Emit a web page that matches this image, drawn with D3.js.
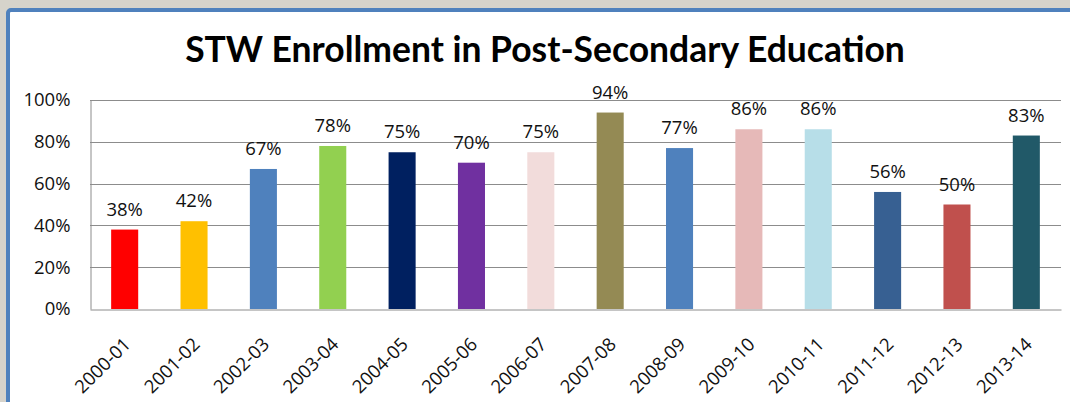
<!DOCTYPE html>
<html>
<head>
<meta charset="utf-8">
<script src="https://cdn.jsdelivr.net/npm/d3@7"></script>
<style>
  html, body { margin: 0; padding: 0; background: #d6d3cb; }
  #chart { width: 1070px; height: 402px; }
</style>
</head>
<body>
<div id="chart"></div>
<script>
const years = ['2000-01', '2001-02', '2002-03', '2003-04', '2004-05', '2005-06', '2006-07',
  '2007-08', '2008-09', '2009-10', '2010-11', '2011-12', '2012-13', '2013-14'];
const enrollment = [38, 42, 67, 78, 75, 70, 75, 94, 77, 86, 86, 56, 50, 83];
const barColors = ['#ff0000', '#ffc000', '#4f81bd', '#92d050', '#002060', '#7030a0', '#f2dcdb',
  '#948a54', '#4f81bd', '#e6b9b8', '#b7dee8', '#376092', '#c0504d', '#215968'];
const yTicks = [0, 20, 40, 60, 80, 100];

const width = 1070;
const height = 402;
const margin = { top: 100, right: 9, bottom: 93, left: 90 };
const font = '"Open Sans", "Liberation Sans", sans-serif';
const labelSize = 18.5;

const svg = d3.select('#chart').append('svg')
  .attr('width', width)
  .attr('height', height)
  .style('display', 'block');

// window frame: grey surround, blue border, white chart area
svg.append('rect').attr('width', width).attr('height', height).attr('fill', '#d6d3cb');
svg.append('rect')
  .attr('x', 8).attr('y', 10)
  .attr('width', width + 20).attr('height', height + 20)
  .attr('rx', 3)
  .attr('fill', '#fff')
  .attr('stroke', '#4f81bd')
  .attr('stroke-width', 4);

const title = svg.append('text')
  .attr('x', 545)
  .attr('y', 62)
  .attr('text-anchor', 'middle')
  .attr('font-family', '"Lato", "Open Sans", sans-serif')
  .attr('font-weight', 'bold')
  .attr('font-size', 32)
  .attr('fill', '#000')
  .text('STW Enrollment in Post-Secondary Education');
// fit to the width of the original title
const tw = title.node().getComputedTextLength();
title.attr('font-size', 32 * 720 / tw);

const x = d3.scaleBand()
  .domain(years)
  .range([margin.left, width - margin.right])
  .paddingInner(0.61)
  .paddingOuter(0.305);

const y = d3.scaleLinear()
  .domain([0, 100])
  .range([height - margin.bottom, margin.top]);

const color = d3.scaleOrdinal(years, barColors);

// gridlines
svg.append('g')
  .selectAll('line')
  .data(yTicks.filter((d) => d > 0))
  .join('line')
  .attr('x1', margin.left)
  .attr('x2', width - margin.right)
  .attr('y1', (d) => Math.round(y(d)) + 0.5)
  .attr('y2', (d) => Math.round(y(d)) + 0.5)
  .attr('stroke', '#8c8c8c')
  .attr('stroke-width', 1);

// y axis
const yAxis = svg.append('g')
  .attr('transform', `translate(${margin.left + 0.5},0)`)
  .call(d3.axisLeft(y).tickValues(yTicks).tickSize(0).tickPadding(20).tickFormat((d) => d + '%'));
yAxis.select('.domain').attr('stroke', '#8c8c8c');
yAxis.selectAll('text')
  .attr('font-family', font)
  .attr('font-size', labelSize)
  .attr('fill', '#111');

// bars
svg.append('g')
  .selectAll('rect')
  .data(years)
  .join('rect')
  .attr('x', (d) => x(d))
  .attr('width', x.bandwidth())
  .attr('y', (d, i) => y(enrollment[i]))
  .attr('height', (d, i) => y(0) - y(enrollment[i]))
  .attr('fill', color);

// value labels
svg.append('g')
  .selectAll('text')
  .data(years)
  .join('text')
  .attr('x', (d) => x(d) + x.bandwidth() / 2)
  .attr('y', (d, i) => y(enrollment[i]) - 14)
  .attr('text-anchor', 'middle')
  .attr('font-family', font)
  .attr('font-size', labelSize)
  .attr('fill', '#111')
  .text((d, i) => enrollment[i] + '%');

// x axis
const xAxis = svg.append('g')
  .attr('transform', `translate(0,${y(0) + 0.5})`)
  .call(d3.axisBottom(x).tickSize(0).tickPadding(0));
xAxis.select('.domain').attr('stroke', '#8c8c8c');
xAxis.selectAll('text')
  .attr('font-family', font)
  .attr('font-size', labelSize)
  .attr('fill', '#111')
  .attr('text-anchor', 'end')
  .attr('dy', 0)
  .attr('y', 0)
  .attr('transform', 'translate(7,36) rotate(-45)');
</script>
</body>
</html>
